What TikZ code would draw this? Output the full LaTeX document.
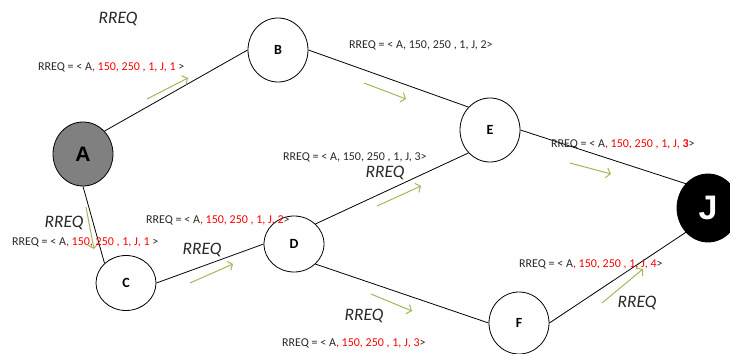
\documentclass[tikz,border=0pt]{standalone}
\usepackage{fontspec}
\setmainfont{Carlito}
\newfontfamily\arl{Liberation Sans}
\usetikzlibrary{shapes.geometric,arrows.meta}
\definecolor{gr}{RGB}{155,187,89}
\definecolor{rd}{RGB}{255,0,0}
\definecolor{tx}{RGB}{40,40,40}
\begin{document}
\begin{tikzpicture}[x=1pt,y=-1pt,
  nd/.style={ellipse,draw=black,line width=0.8pt,inner sep=0pt,font=\fontsize{14}{14}\selectfont\bfseries,fill=white},
  lbl/.style={anchor=west,inner sep=0pt,text=tx,font=\fontsize{12}{12}\selectfont},
  rq/.style={inner sep=0pt,text=tx,font=\fontsize{17.5}{17.5}\selectfont\itshape},
  edge/.style={line width=0.8pt,black},
  garrow/.style={draw=gr,line width=1pt,-{Straight Barb[length=4pt,width=10pt]}}]
\useasboundingbox (0,0) rectangle (730,353);
% nodes
\node[nd,minimum width=60,minimum height=64,fill={rgb,255:red,128;green,128;blue,128},font=\fontsize{21}{21}\selectfont\arl\bfseries] (A) at (83,154) {A};
\node[nd,minimum width=60,minimum height=64] (B) at (278,50) {B};
\node[nd,minimum width=60,minimum height=64] (E) at (490,130) {E};
\node[nd,minimum width=62,minimum height=68,fill=black,text=white,font=\fontsize{34}{34}\selectfont\arl\bfseries] (J) at (708,208) {J};
\node[nd,minimum width=60,minimum height=55] (C) at (126,283) {C};
\node[nd,minimum width=60,minimum height=56] (D) at (294,244) {D};
\node[nd,minimum width=60,minimum height=62] (F) at (519,323) {F};
% edges
\draw[edge] (A.north east) -- (B.west);
\draw[edge] (A.south) -- (C.north west);
\draw[edge] (B.east) -- (E.north west);
\draw[edge] (C.east) -- (D.west);
\draw[edge] (D.north east) -- (E.south west);
\draw[edge] (D.south east) -- (F.west);
\draw[edge] (E.east) -- (J.north west);
\draw[edge] (F.east) -- (J.south west);
% green arrows
\coordinate (g1s) at (147,99);  \coordinate (g1e) at (188,78);
\coordinate (g2s) at (364,83);  \coordinate (g2e) at (406,99);
\coordinate (g3s) at (570,163); \coordinate (g3e) at (611,174);
\coordinate (g4s) at (86,207);  \coordinate (g4e) at (94,249);
\coordinate (g5s) at (190,283); \coordinate (g5e) at (233,264);
\coordinate (g6s) at (377,206); \coordinate (g6e) at (421,186);
\coordinate (g7s) at (371,294); \coordinate (g7e) at (412,311);
\coordinate (g8s) at (602,303); \coordinate (g8e) at (643,269);
\draw[garrow] (g1s) -- (g1e);
\draw[garrow] (g2s) -- (g2e);
\draw[garrow] (g3s) -- (g3e);
\draw[garrow] (g4s) -- (g4e);
\draw[garrow] (g5s) -- (g5e);
\draw[garrow] (g6s) -- (g6e);
\draw[garrow] (g7s) -- (g7e);
\draw[garrow] (g8s) -- (g8e);
% RREQ italic labels
\node[rq] (r1) at (118,19) {RREQ};
\node[rq] (r2) at (64,223) {RREQ};
\node[rq] (r3) at (202,250) {RREQ};
\node[rq] (r4) at (385,173) {RREQ};
\node[rq] (r5) at (364,316) {RREQ};
\node[rq] (r6) at (637,303) {RREQ};
% message labels
\node[lbl] (m1) at (38,67) {RREQ = < A\textcolor{rd}{, 150, 250 , 1, J, 1} >};
\node[lbl] (m2) at (349,45) {RREQ = < A, 150, 250 , 1, J, 2>};
\node[lbl] (m3) at (551,144) {RREQ = < A\textcolor{rd}{, 150, 250 , 1, J, \textbf{3}}>};
\node[lbl] (m4) at (283,157) {RREQ = < A, 150, 250 , 1, J, 3>};
\node[lbl] (m5) at (146,220) {RREQ = < A\textcolor{rd}{, 150, 250 , 1, J, 2}>};
\node[lbl] (m6) at (12,242) {RREQ = < A\textcolor{rd}{, 150, 250 , 1, J, 1} >};
\node[lbl] (m7) at (519,264) {RREQ = < A\textcolor{rd}{, 150, 250 , 1, J, 4}>};
\node[lbl] (m8) at (282,343) {RREQ = < A\textcolor{rd}{, 150, 250 , 1, J, 3}>};
\end{tikzpicture}
\end{document}
